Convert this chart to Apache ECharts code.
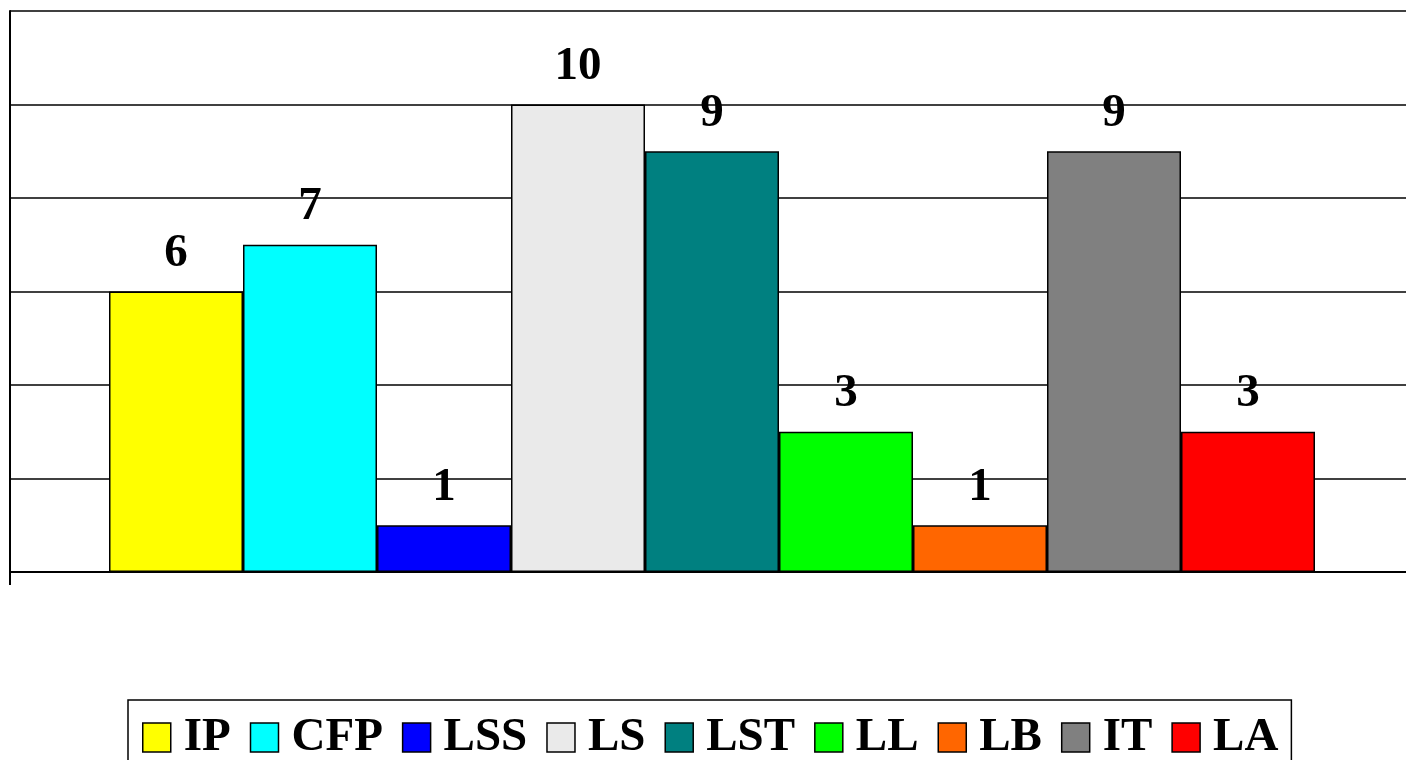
<!DOCTYPE html>
<html>
<head>
<meta charset="utf-8">
<script src="https://cdn.jsdelivr.net/npm/echarts@6/dist/echarts.min.js"></script>
<style>
html,body{margin:0;padding:0;background:#fff;overflow:hidden;width:1406px;height:760px;}
#chart{width:1414px;height:760px;}
</style>
</head>
<body>
<div id="chart"></div>
<script>
const seriesNames = ['IP','CFP','LSS','LS','LST','LL','LB','IT','LA'];
const seriesValues = [6,7,1,10,9,3,1,9,3];
const seriesColors = ['#FFFF00','#00FFFF','#0000FF','#EAEAEA','#008080','#00FF00','#FF6600','#808080','#FF0000'];
const categories = [''];
const yMin = 0, yMax = 12, yInterval = 2;

const FONT = '"Liberation Serif", "Times New Roman", serif';

const chart = echarts.init(document.getElementById('chart'), null, {renderer:'canvas'});
const series = seriesNames.map((name,i)=>({
  name: name,
  type: 'bar',
  data: [seriesValues[i]],
  barWidth: 134,
  barGap: '0%',
  itemStyle: {color: seriesColors[i], borderColor:'#000', borderWidth:1.5},
  label: {
    show: true, position: 'top', distance: 14,
    color:'#000', fontFamily: FONT, fontWeight:'bold', fontSize:47
  },
  emphasis:{disabled:true}
}));

chart.setOption({
  animation:false,
  backgroundColor:'#fff',
  grid:{left:10, top:11, right:0, height:561, containLabel:false},
  xAxis:{
    type:'category', data: categories,
    axisLine:{show:true, lineStyle:{color:'#000', width:2}},
    axisTick:{show:true, length:13, lineStyle:{color:'#000', width:2}},
    axisLabel:{show:false},
    splitLine:{show:false}
  },
  yAxis:{
    type:'value', min:yMin, max:yMax, interval:yInterval,
    axisLine:{show:true, lineStyle:{color:'#000', width:2}},
    axisTick:{show:false},
    axisLabel:{show:false},
    splitLine:{show:true, lineStyle:{color:'#000', width:1.5}}
  },
  legend:{
    left:128, top:700,
    orient:'horizontal',
    data: seriesNames,
    icon:'rect',
    itemWidth:28, itemHeight:29,
    itemGap:19,
    padding:[14,13,10,14],
    borderColor:'#000', borderWidth:1.5,
    itemStyle:{borderColor:'#000', borderWidth:1.5},
    textStyle:{color:'#000', fontFamily:FONT, fontWeight:'bold', fontSize:47, padding:[0,0,0,8]},
    selectedMode:false
  },
  series: series
});
</script>
</body>
</html>
